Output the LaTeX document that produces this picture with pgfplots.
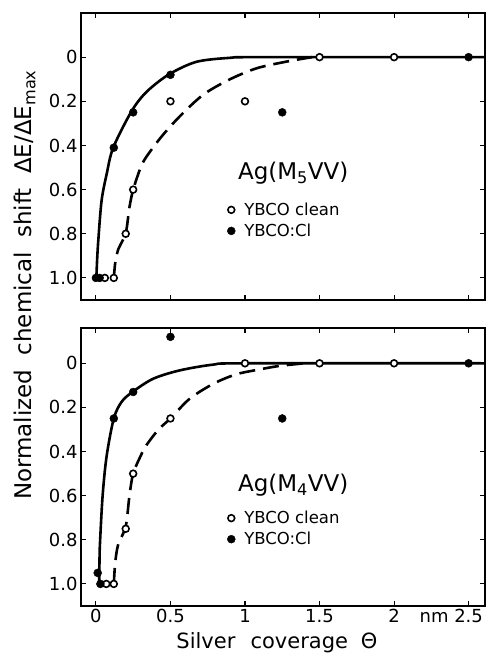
\documentclass[border=0pt]{standalone}
\usepackage{fontspec}
\setmainfont{DejaVu Sans}
\usepackage{pgfplots}
\pgfplotsset{compat=1.18}

\pgfplotsset{
  panel/.style={
    scale only axis, width=404pt,
    xmin=-0.1, xmax=2.61,
    y dir=reverse,
    xtick={0,0.5,1,1.5,2,2.5},
    ytick={0,0.2,0.4,0.6,0.8,1.0},
    yticklabels={0,0.2,0.4,0.6,0.8,1.0},
    tick align=inside,
    major tick length=5pt,
    axis line style={line width=1.3pt},
    every tick/.style={line width=1.1pt, black},
    /pgf/number format/assume math mode=true,
    tick label style={font=\fontsize{18}{18}\selectfont},
    legend style={draw=none, fill=none, font=\fontsize{16.5}{16.5}\selectfont,
      row sep=3pt, inner sep=0pt,
      /tikz/every odd column/.append style={column sep=7pt}},
    legend cell align=left,
  },
  solidc/.style={line width=2.6pt, smooth, no marks, forget plot},
  dashc/.style={line width=2.6pt, smooth, no marks, forget plot, dash pattern=on 16pt off 8pt},
  openm/.style={only marks, mark=*, mark size=3.4pt, mark options={fill=white, draw=black, line width=1.6pt}},
  fullm/.style={only marks, mark=*, mark size=4pt, mark options={fill=black, draw=black}},
}

\begin{document}
\begin{tikzpicture}
\useasboundingbox (0,0) rectangle (489pt,667pt);

% top panel: Ag(M5VV)
\begin{axis}[panel, at={(81pt,367pt)}, anchor=south west, height=287pt,
  ymin=-0.2, ymax=1.1, xticklabels={},
  legend style={at={(axis cs:0.88,0.65)}, anchor=north west}]
\addplot[solidc] coordinates {
  (0.003,1.0)(0.008,0.92)(0.016,0.83)(0.038,0.65)(0.072,0.53)(0.116,0.41)
  (0.24,0.244)(0.34,0.157)(0.49,0.078)(0.675,0.021)(0.9,0.003)(1.1,0)(2.61,0)};
\addplot[dashc] coordinates {
  (0.12,1.0)(0.13,0.93)(0.15,0.87)(0.18,0.83)(0.205,0.78)(0.225,0.68)(0.25,0.6)
  (0.3,0.5)(0.34,0.45)(0.44,0.36)(0.56,0.27)(0.72,0.17)(0.9,0.10)(1.08,0.05)
  (1.28,0.02)(1.45,0)};
\addplot[openm] coordinates {
  (0.06,1.0)(0.12,1.0)(0.2,0.8)(0.25,0.6)(0.5,0.2)(1.0,0.2)(1.5,0)(2.0,0)};
\addlegendentry{YBCO clean}
\addplot[fullm] coordinates {
  (0,1.0)(0.025,1.0)(0.12,0.41)(0.25,0.25)(0.5,0.08)(1.25,0.25)(2.5,0)};
\addlegendentry{YBCO:Cl}
\node[anchor=west, font=\fontsize{23}{23}\selectfont, inner sep=0pt]
  at (axis cs:0.952,0.525) {Ag(M\textsubscript{5}VV)};
\end{axis}

% bottom panel: Ag(M4VV)
\begin{axis}[panel, at={(81pt,61pt)}, anchor=south west, height=278pt,
  ymin=-0.16, ymax=1.1,
  xticklabels={0,0.5,1,1.5,2,\llap{nm\ }2.5},
  xlabel={Silver\hspace{0.4em} coverage\hspace{0.3em} Θ},
  xlabel style={font=\fontsize{21}{21}\selectfont, yshift=-3pt, xshift=-6pt},
  legend style={at={(axis cs:0.88,0.66)}, anchor=north west}]
\addplot[solidc] coordinates {
  (0.022,1.0)(0.024,0.9)(0.027,0.82)(0.045,0.6)(0.072,0.42)(0.12,0.25)
  (0.172,0.175)(0.245,0.13)(0.384,0.07)(0.563,0.032)(0.786,0.006)(1.0,0)(2.61,0)};
\addplot[dashc] coordinates {
  (0.12,1.0)(0.13,0.9)(0.15,0.82)(0.2,0.74)(0.225,0.6)(0.25,0.5)(0.3,0.42)
  (0.34,0.37)(0.42,0.3)(0.5,0.25)(0.63,0.16)(0.79,0.092)(0.94,0.05)(1.08,0.03)
  (1.23,0.012)(1.4,0)};
\addplot[openm] coordinates {
  (0.07,1.0)(0.12,1.0)(0.2,0.75)(0.25,0.5)(0.5,0.25)(1.0,0)(1.5,0)(2.0,0)};
\addlegendentry{YBCO clean}
\addplot[fullm] coordinates {
  (0.012,0.95)(0.03,1.0)(0.12,0.25)(0.25,0.13)(0.5,-0.12)(1.25,0.25)(2.5,0)};
\addlegendentry{YBCO:Cl}
\node[anchor=west, font=\fontsize{23}{23}\selectfont, inner sep=0pt]
  at (axis cs:0.952,0.552) {Ag(M\textsubscript{4}VV)};
\end{axis}

\node[rotate=90, font=\fontsize{23}{23}\selectfont] at (25pt,382pt)
  {Normalized\hspace{0.3em} chemical\hspace{0.3em} shift\hspace{0.3em} ΔE/ΔE\textsubscript{max}};
\end{tikzpicture}
\end{document}
